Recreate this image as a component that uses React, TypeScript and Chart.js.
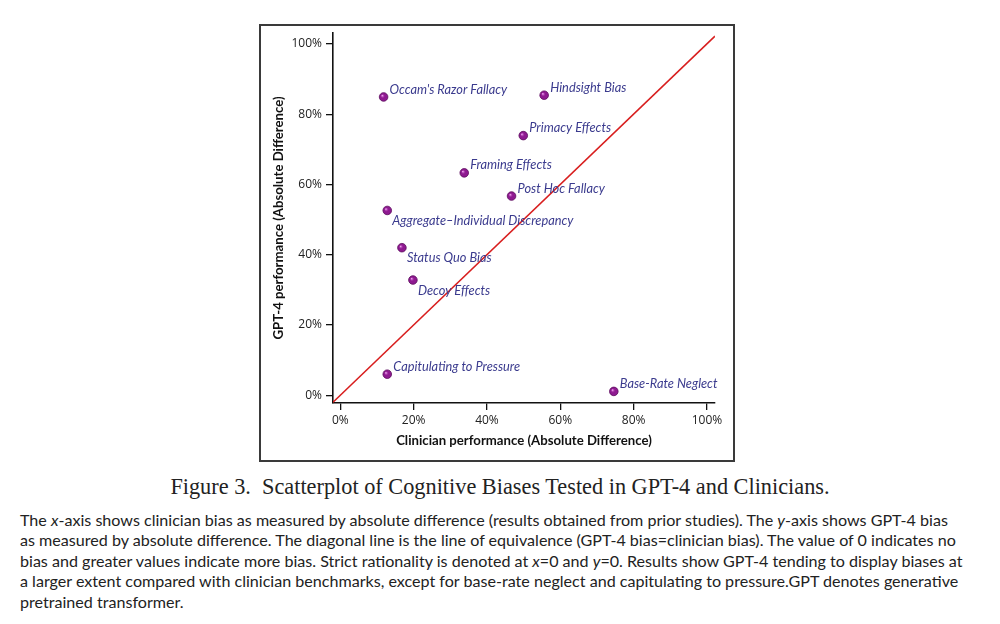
import React, { useEffect, useRef } from 'react';
import { Chart, registerables } from 'chart.js';

Chart.register(...registerables);

const biasNames = [
  "Occam's Razor Fallacy",
  'Hindsight Bias',
  'Primacy Effects',
  'Framing Effects',
  'Post Hoc Fallacy',
  'Aggregate–Individual Discrepancy',
  'Status Quo Bias',
  'Decoy Effects',
  'Capitulating to Pressure',
  'Base-Rate Neglect',
];
const clinicianValues = [11.8, 55.6, 49.9, 33.8, 46.7, 12.8, 16.8, 19.8, 12.8, 74.6];
const gptValues = [84.9, 85.4, 73.9, 63.3, 56.7, 52.6, 42.0, 32.8, 6.0, 1.1];
const labelSides = ['above', 'above', 'above', 'above', 'above', 'below', 'below', 'below', 'above', 'above'];
const tickValues = [0, 20, 40, 60, 80, 100];
const xRange = [-2.0, 102.2];
const yRange = [-2.2, 103.1];
const equivalenceX = [-2.0, 102.2];

const xTitle = 'Clinician performance (Absolute Difference)';
const yTitle = 'GPT-4 performance (Absolute Difference)';

const labelPlugin = {
  id: 'biasLabels',
  afterDatasetsDraw(chart: any) {
    const meta = chart.getDatasetMeta(1);
    const ctx = chart.ctx;
    ctx.save();
    meta.data.forEach((pt: any, i: number) => {
      const { x, y } = pt.getProps(['x', 'y'], true);
      const g = ctx.createRadialGradient(x - 1.4, y - 1.4, 0.3, x, y, 4.6);
      g.addColorStop(0, 'rgba(245,175,245,0.9)');
      g.addColorStop(0.45, 'rgba(170,40,170,0.0)');
      g.addColorStop(1, 'rgba(80,0,80,0.0)');
      ctx.beginPath();
      ctx.arc(x, y, 4.3, 0, Math.PI * 2);
      ctx.fillStyle = g;
      ctx.fill();
      const below = labelSides[i] === 'below';
      ctx.font = 'italic 12.8px Lato';
      ctx.fillStyle = '#3b3b8e';
      ctx.textBaseline = 'middle';
      ctx.textAlign = 'left';
      ctx.fillText(biasNames[i], x + (below ? 5 : 6), y + (below ? 10.5 : -7.5));
    });
    ctx.restore();
  },
};

function ScatterChart() {
  const ref = useRef<HTMLCanvasElement | null>(null);
  useEffect(() => {
    if (!ref.current) return;
    const points = clinicianValues.map((v, i) => ({ x: v, y: gptValues[i] }));
    const chart = new Chart(ref.current, {
      type: 'scatter',
      data: {
        datasets: [
          {
            type: 'line',
            data: equivalenceX.map((v) => ({ x: v, y: v })),
            borderColor: '#d81e1e',
            borderWidth: 1.6,
            pointRadius: 0,
            fill: false,
          } as any,
          {
            data: points,
            pointRadius: 4.3,
            pointBackgroundColor: '#8e1a90',
            pointBorderColor: '#5a0a5c',
            pointBorderWidth: 0.8,
          },
        ],
      },
      options: {
        animation: false,
        responsive: false,
        devicePixelRatio: 1,
        layout: { padding: { left: 270.5, right: 285, top: 33, bottom: 17 } },
        plugins: { legend: { display: false }, tooltip: { enabled: false } },
        scales: {
          x: {
            type: 'linear',
            min: xRange[0],
            max: xRange[1],
            afterBuildTicks: (s: any) => {
              s.ticks = tickValues.map((v) => ({ value: v }));
            },
            afterFit: (s: any) => {
              s.height = 50;
            },
            grid: { drawOnChartArea: false, color: '#111', tickLength: 7, lineWidth: 1.3 },
            border: { color: '#111', width: 1.6 },
            ticks: {
              color: '#222',
              font: { family: 'Open Sans', size: 12 },
              padding: 3,
              callback: (v: any) => v + '%',
              autoSkip: false,
              maxRotation: 0,
            },
            title: {
              display: true,
              text: xTitle,
              color: '#111',
              font: { family: 'Lato', size: 13.2, weight: 'bold' },
              padding: { top: 0, bottom: 4 },
            },
          },
          y: {
            type: 'linear',
            min: yRange[0],
            max: yRange[1],
            afterBuildTicks: (s: any) => {
              s.ticks = tickValues.map((v) => ({ value: v }));
            },
            afterFit: (s: any) => {
              s.width = 62.5;
            },
            grid: { drawOnChartArea: false, color: '#111', tickLength: 7, lineWidth: 1.3 },
            border: { color: '#111', width: 1.6 },
            ticks: {
              color: '#222',
              font: { family: 'Open Sans', size: 12 },
              padding: 4,
              callback: (v: any) => v + '%',
              autoSkip: false,
            },
            title: {
              display: true,
              text: yTitle,
              color: '#111',
              font: { family: 'Lato', size: 13.2, weight: 'bold' },
              padding: { top: 0, bottom: 0 },
            },
          },
        },
      },
      plugins: [labelPlugin],
    } as any);
    return () => chart.destroy();
  }, []);
  return (
    <canvas
      ref={ref}
      width={1000}
      height={470}
      style={{ position: 'absolute', left: 0, top: 0, width: 1000, height: 470 }}
    />
  );
}

const bodyStyle: React.CSSProperties = {
  position: 'absolute',
  left: 20,
  whiteSpace: 'nowrap',
  fontFamily: 'Lato, sans-serif',
  fontSize: 16.1,
  lineHeight: '20.5px',
  color: '#222',
};

export default function App() {
  return (
    <div style={{ position: 'absolute', left: 0, top: 0, width: 1000, height: 624, background: '#fff', overflow: 'hidden' }}>
      <div
        style={{
          position: 'absolute',
          left: 259,
          top: 24,
          width: 476,
          height: 438,
          border: '2px solid #3a3a3a',
          boxSizing: 'border-box',
        }}
      />
      <ScatterChart />
      <div
        style={{
          position: 'absolute',
          left: 0,
          width: 1000,
          top: 473,
          textAlign: 'center',
          fontFamily: '"Liberation Serif", serif',
          fontSize: 22.3,
          lineHeight: '28px',
          color: '#222',
          whiteSpace: 'nowrap',
        }}
      >
        Figure 3.&nbsp; Scatterplot of Cognitive Biases Tested in GPT-4 and Clinicians.
      </div>
      <div style={{ ...bodyStyle, top: 509.8 }}>
        <div>
          The <i>x</i>-axis shows clinician bias as measured by absolute difference (results obtained from prior studies). The <i>y</i>-axis shows GPT-4 bias
        </div>
        <div>
          as measured by absolute difference. The diagonal line is the line of equivalence (GPT-4 bias=clinician bias). The value of 0 indicates no
        </div>
        <div>
          bias and greater values indicate more bias. Strict rationality is denoted at <i>x</i>=0 and <i>y</i>=0. Results show GPT-4 tending to display biases at
        </div>
        <div>
          a larger extent compared with clinician benchmarks, except for base-rate neglect and capitulating to pressure.GPT denotes generative
        </div>
        <div>pretrained transformer.</div>
      </div>
    </div>
  );
}
